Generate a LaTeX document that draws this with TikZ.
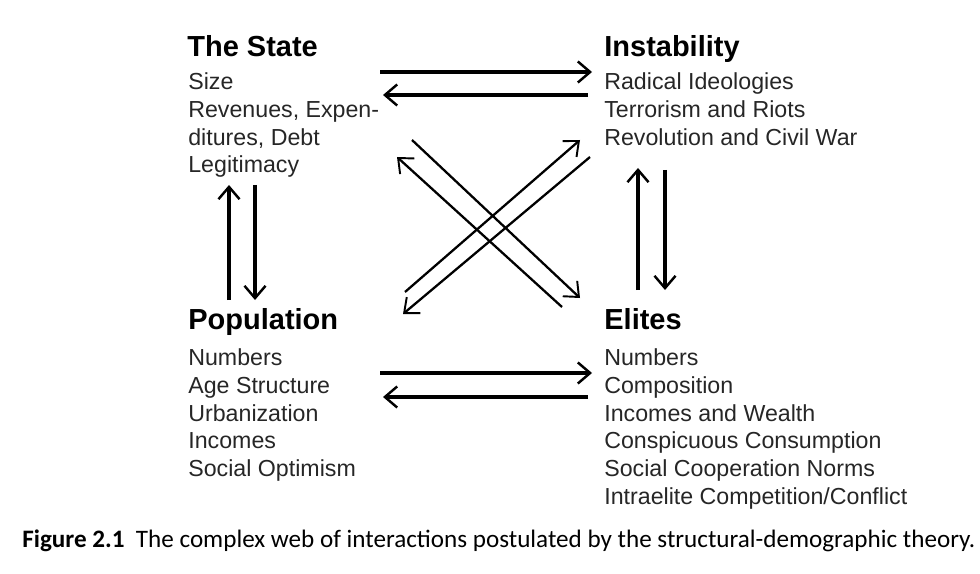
\documentclass[tikz,border=0pt]{standalone}
\usepackage{fontspec}
\setmainfont{Liberation Sans}
\newfontfamily\capfont{Carlito}
\usetikzlibrary{arrows.meta}
\begin{document}
\begin{tikzpicture}[x=0.02cm,y=-0.02cm,
  head/.style={font=\fontsize{16.5}{18}\selectfont\bfseries,anchor=base west,inner sep=0},
  body/.style={font=\fontsize{13.2}{15.9}\selectfont,anchor=north west,align=left,inner sep=0,text=black!85},
  thick arr/.style={line width=1.9pt,-{Straight Barb[length=7pt,width=12pt,line width=1.4pt]}},
  thin arr/.style={line width=1.3pt,-{Straight Barb[length=7pt,width=12pt,line width=1.1pt]}}]
\useasboundingbox (0,0) rectangle (980,574);
\node[head] (sh) at (187,57) {The State};
\node[body] (sb) at (188,72) {Size\\Revenues, Expen-\\ditures, Debt\\Legitimacy};
\node[head] (ih) at (604,57) {Instability};
\node[body] (ib) at (604,72) {Radical Ideologies\\Terrorism and Riots\\Revolution and Civil War};
\node[head] (ph) at (188,329) {Population};
\node[body] (pb) at (188,348) {Numbers\\Age Structure\\Urbanization\\Incomes\\Social Optimism};
\node[head] (eh) at (604,329) {Elites};
\node[body] (eb) at (604,348) {Numbers\\Composition\\Incomes and Wealth\\Conspicuous Consumption\\Social Cooperation Norms\\Intraelite Competition/Conflict};
\node[anchor=base west,inner sep=0,font=\capfont\fontsize{14.3}{16}\selectfont] (cap) at (22,547) {\textbf{Figure 2.1}\ \ The complex web of interactions postulated by the structural-demographic theory.};
% coordinates
\coordinate (a1) at (380,72); \coordinate (a2) at (592,72);
\coordinate (b1) at (588,95); \coordinate (b2) at (383,95);
\coordinate (c1) at (380,373); \coordinate (c2) at (592,373);
\coordinate (d1) at (588,397); \coordinate (d2) at (383,397);
\coordinate (e1) at (229,300); \coordinate (e2) at (229,185);
\coordinate (f1) at (255,185); \coordinate (f2) at (255,300);
\coordinate (g1) at (638,290); \coordinate (g2) at (638,168);
\coordinate (h1) at (665,170); \coordinate (h2) at (665,290);
\coordinate (i1) at (412,140); \coordinate (i2) at (580,298);
\coordinate (j1) at (562,307); \coordinate (j2) at (397,157);
\coordinate (k1) at (405,292); \coordinate (k2) at (580,140);
\coordinate (l1) at (590,157); \coordinate (l2) at (403,314);
\draw[thick arr] (a1) -- (a2);
\draw[thick arr] (b1) -- (b2);
\draw[thick arr] (c1) -- (c2);
\draw[thick arr] (d1) -- (d2);
\draw[thick arr] (e1) -- (e2);
\draw[thick arr] (f1) -- (f2);
\draw[thick arr] (g1) -- (g2);
\draw[thick arr] (h1) -- (h2);
\draw[thin arr] (i1) -- (i2);
\draw[thin arr] (j1) -- (j2);
\draw[thin arr] (k1) -- (k2);
\draw[thin arr] (l1) -- (l2);
\end{tikzpicture}
\end{document}
